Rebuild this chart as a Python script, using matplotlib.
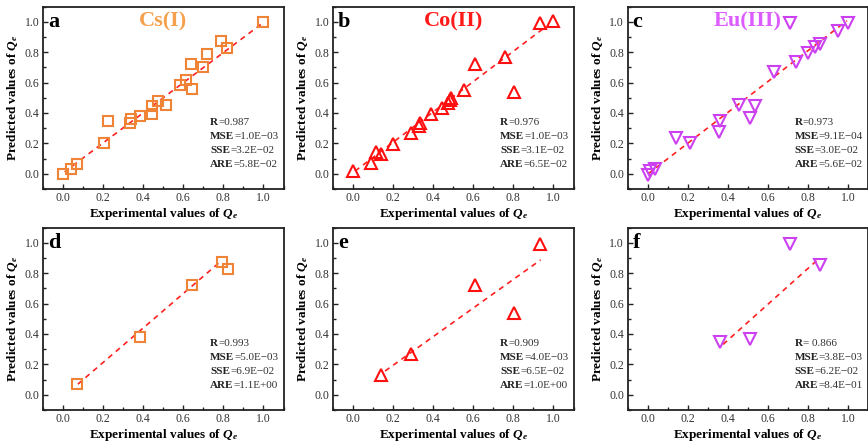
import numpy as np
import matplotlib
matplotlib.use("Agg")
import matplotlib.pyplot as plt
from matplotlib.ticker import MultipleLocator

plt.rcParams["font.family"] = ["Liberation Serif", "DejaVu Serif"]
plt.rcParams["mathtext.fontset"] = "custom"
plt.rcParams["mathtext.it"] = "Liberation Serif:italic:bold"
plt.rcParams["mathtext.rm"] = "Liberation Serif:bold"
plt.rcParams["mathtext.bf"] = "Liberation Serif:bold"

# ---- Cs(I): training set (a) and test set (d) ----
cs_exp = [0.00, 0.038, 0.069, 0.206, 0.222, 0.332, 0.337, 0.382, 0.444, 0.444, 0.472,
          0.513, 0.584, 0.612, 0.641, 0.638, 0.699, 0.720, 0.789, 0.819, 1.00]
cs_pred = [0.00, 0.033, 0.066, 0.202, 0.347, 0.334, 0.358, 0.378, 0.391, 0.444, 0.477,
           0.451, 0.582, 0.615, 0.560, 0.725, 0.703, 0.785, 0.875, 0.824, 1.00]
cs_test_exp = [0.070, 0.383, 0.642, 0.793, 0.822]
cs_test_pred = [0.068, 0.377, 0.725, 0.874, 0.825]

# ---- Co(II): training set (b) and test set (e) ----
co_exp = [0.00, 0.092, 0.117, 0.140, 0.200, 0.288, 0.330, 0.336, 0.389, 0.446, 0.476,
          0.485, 0.490, 0.554, 0.607, 0.758, 0.803, 0.932, 1.00]
co_pred = [0.018, 0.073, 0.143, 0.127, 0.193, 0.271, 0.315, 0.336, 0.396, 0.435, 0.468,
           0.484, 0.501, 0.554, 0.723, 0.765, 0.537, 0.993, 1.005]
co_test_exp = [0.140, 0.288, 0.607, 0.803, 0.932]
co_test_pred = [0.127, 0.271, 0.723, 0.537, 0.993]

# ---- Eu(III): training set (c) and test set (f) ----
eu_exp = [0.00, 0.012, 0.036, 0.144, 0.210, 0.360, 0.357, 0.458, 0.510, 0.537, 0.631,
          0.710, 0.739, 0.800, 0.838, 0.860, 0.949, 1.00]
eu_pred = [-0.008, 0.018, 0.033, 0.237, 0.202, 0.345, 0.278, 0.451, 0.370, 0.444, 0.670,
           0.990, 0.736, 0.796, 0.835, 0.855, 0.941, 0.993]
eu_test_exp = [0.360, 0.510, 0.710, 0.860]
eu_test_pred = [0.345, 0.370, 0.990, 0.855]

# ---- linear fit lines (panels a-f): slope, intercept and x span ----
fit_slope = [0.990, 0.997, 1.015, 1.133, 0.941, 1.179]
fit_icpt = [0.005, 0.008, -0.003, -0.014, 0.006, -0.113]
fit_x_lo = [0.008, 0.010, 0.003, 0.074, 0.160, 0.377]
fit_x_hi = [0.987, 0.962, 0.995, 0.779, 0.936, 0.852]

# ---- goodness-of-fit statistics per panel ----
stat_names = ["R", "MSE", "SSE", "ARE"]
stats_a = ["=0.987", "=1.0E\u221203", "=3.2E\u221202", "=5.8E\u221202"]
stats_b = ["=0.976", "=1.0E\u221203", "=3.1E\u221202", "=6.5E\u221202"]
stats_c = ["=0.973", "=9.1E\u221204", "=3.0E\u221202", "=5.6E\u221202"]
stats_d = ["=0.993", "=5.0E\u221203", "=6.9E\u221202", "=1.1E+00"]
stats_e = ["=0.909", "=4.0E\u221203", "=6.5E\u221202", "=1.0E+00"]
stats_f = ["= 0.866", "=3.8E\u221203", "=6.2E\u221202", "=8.4E\u221201"]

panel_letters = ["a", "b", "c", "d", "e", "f"]
ion_names = ["Cs(I)", "Co(II)", "Eu(III)"]
ion_title_colors = ["#F5A04C", "#FF1A1A", "#DD5CFF"]
marker_colors = ["#EF8436", "#FF1010", "#CC40F2"]
marker_shapes = ["s", "^", "v"]
marker_sizes = [7.2, 9.0, 9.0]

W, H = 868, 445
fig = plt.figure(figsize=(W / 100, H / 100), dpi=100)

col_left_px = [43, 333, 627.5]
axw_px = 240.5
row_top_px = [6.5, 227.5]
axh_px = 182.5

panels = [
    (cs_exp, cs_pred, stats_a), (co_exp, co_pred, stats_b), (eu_exp, eu_pred, stats_c),
    (cs_test_exp, cs_test_pred, stats_d), (co_test_exp, co_test_pred, stats_e),
    (eu_test_exp, eu_test_pred, stats_f),
]

ticks = np.arange(0, 1.01, 0.2)

for k, (xs, ys, stats) in enumerate(panels):
    r, c = divmod(k, 3)
    left = col_left_px[c] / W
    bottom = 1 - (row_top_px[r] + axh_px) / H
    ax = fig.add_axes([left, bottom, axw_px / W, axh_px / H])

    xl = np.array([fit_x_lo[k], fit_x_hi[k]])
    ax.plot(xl, fit_slope[k] * xl + fit_icpt[k], color="#FF2020", lw=1.2,
            linestyle=(0, (3.2, 2.8)), zorder=2)

    ax.plot(xs, ys, linestyle="none", marker=marker_shapes[c], ms=marker_sizes[c],
            mfc="none", mec=marker_colors[c], mew=1.5, zorder=3)

    ax.set_xlim(-0.1, 1.1)
    ax.set_ylim(-0.1, 1.1)
    ax.set_xticks(ticks)
    ax.set_yticks(ticks)
    ax.set_xticklabels([f"{v:.1f}" for v in ticks])
    ax.set_yticklabels([f"{v:.1f}" for v in ticks])
    ax.xaxis.set_minor_locator(MultipleLocator(0.1))
    ax.yaxis.set_minor_locator(MultipleLocator(0.1))
    ax.tick_params(which="both", direction="in", top=False, right=False,
                   labelsize=8.5, labelcolor="#333333", color="#222222", width=1.0)
    ax.tick_params(which="major", length=3.5, pad=2.5)
    ax.tick_params(which="minor", length=2.0)
    for sp in ax.spines.values():
        sp.set_linewidth(1.3)
        sp.set_color("#222222")

    ax.set_xlabel("Experimental values of $Q_e$", fontsize=9.5, fontweight="bold",
                  va="center")
    ax.set_ylabel("Predicted values of $Q_e$", fontsize=9.5, fontweight="bold",
                  va="center")
    ax.xaxis.set_label_coords(0.5, -25 / axh_px)
    ax.yaxis.set_label_coords(-30 / axw_px, 0.5)

    ax.text(0.02, 0.917, panel_letters[k], transform=ax.transAxes, fontsize=16,
            fontweight="bold", ha="left", va="center")
    if r == 0:
        ax.text(0.5, 1.0, ion_names[c], transform=ax.transData, fontsize=16,
                fontweight="bold", color=ion_title_colors[c], ha="center", va="center")

    y0 = 0.35
    dy = 0.077
    for i, (nm, val) in enumerate(zip(stat_names, stats)):
        t = ax.text(0.695, y0 - i * dy, nm, transform=ax.transAxes, fontsize=8,
                    fontweight="bold", color="#222222", ha="left", va="baseline")
        ax.annotate(val, xy=(1, 0), xycoords=t, fontsize=8, color="#333333",
                    ha="left", va="bottom")

fig.savefig("out.png", dpi=100)
